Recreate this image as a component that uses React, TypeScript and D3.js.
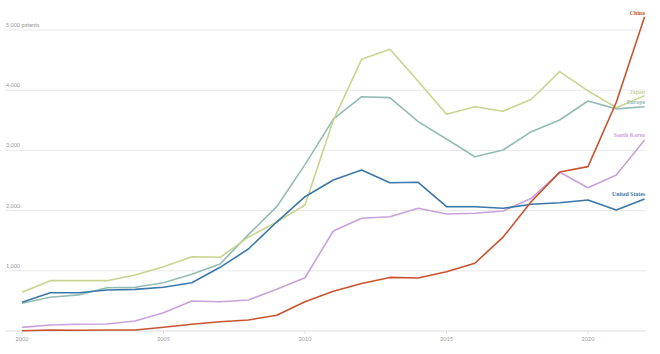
import React, { useEffect, useRef } from 'react'
import * as d3 from 'd3'

const years = d3.range(2000, 2023)
const china = [5, 17, 12, 17, 17, 61, 111, 154, 183, 261, 487, 660, 790, 890, 880, 985, 1125, 1560, 2150, 2640, 2730, 3800, 5220]
const japan = [643, 836, 836, 836, 930, 1068, 1234, 1224, 1560, 1810, 2093, 3500, 4513, 4680, 4150, 3600, 3726, 3650, 3850, 4308, 3990, 3710, 3910]
const europe = [460, 560, 600, 719, 726, 802, 941, 1113, 1600, 2065, 2764, 3520, 3892, 3876, 3477, 3190, 2895, 3007, 3311, 3505, 3820, 3690, 3726]
const southKorea = [61, 100, 111, 116, 166, 304, 498, 487, 515, 693, 885, 1661, 1872, 1899, 2038, 1944, 1955, 1993, 2204, 2636, 2380, 2591, 3173]
const unitedStates = [477, 636, 636, 681, 692, 726, 802, 1058, 1362, 1810, 2231, 2508, 2674, 2463, 2470, 2065, 2065, 2038, 2105, 2131, 2176, 2010, 2193]

const yTicks = [1000, 2000, 3000, 4000, 5000]
const xTicks = [2000, 2005, 2010, 2015, 2020]

// label offsets (px) from each line's last point
const series = [
  { name: 'Europe', values: europe, color: '#93bcb4', dy: -2.5 },
  { name: 'Japan', values: japan, color: '#c9d48f', dy: -2 },
  { name: 'South Korea', values: southKorea, color: '#c7a3dd', dy: -2.5 },
  { name: 'United States', values: unitedStates, color: '#3b78a9', dy: -3 },
  { name: 'China', values: china, color: '#c9532f', dy: 0 },
]

const W = 660
const H = 354

export default function App() {
  const ref = useRef<SVGSVGElement>(null)

  useEffect(() => {
    const svg = d3.select(ref.current)
    svg.selectAll('*').remove()

    const x = d3.scaleLinear().domain([2000, 2022]).range([22, 644.6])
    const y = d3.scaleLinear().domain([0, 5000]).range([331, 30])

    // grid
    svg.append('g')
      .selectAll('line')
      .data(yTicks)
      .enter()
      .append('line')
      .attr('x1', 5)
      .attr('x2', 646)
      .attr('y1', d => y(d))
      .attr('y2', d => y(d))
      .attr('stroke', '#e8e8e8')
      .attr('stroke-width', 1)

    svg.append('g')
      .selectAll('text')
      .data(yTicks)
      .enter()
      .append('text')
      .attr('x', 6)
      .attr('y', d => y(d) - 3)
      .attr('font-family', 'Lato, sans-serif')
      .attr('font-size', 5.5)
      .attr('fill', '#999')
      .text(d => d3.format(',')(d) + (d === 5000 ? ' patents' : ''))

    // baseline + x axis
    svg.append('line')
      .attr('x1', 5).attr('x2', 646)
      .attr('y1', y(0)).attr('y2', y(0))
      .attr('stroke', '#dcdcdc')

    const xg = svg.append('g')
    xg.selectAll('line')
      .data(xTicks)
      .enter()
      .append('line')
      .attr('x1', d => x(d)).attr('x2', d => x(d))
      .attr('y1', y(0)).attr('y2', y(0) + 3)
      .attr('stroke', '#dcdcdc')
    xg.selectAll('text')
      .data(xTicks)
      .enter()
      .append('text')
      .attr('x', d => x(d))
      .attr('y', y(0) + 10)
      .attr('text-anchor', 'middle')
      .attr('font-family', 'Lato, sans-serif')
      .attr('font-size', 5.5)
      .attr('fill', '#999')
      .text(d => d)

    const line = d3.line<number>()
      .x((d, i) => x(years[i]))
      .y(d => y(d))

    svg.append('g')
      .selectAll('path')
      .data(series)
      .enter()
      .append('path')
      .attr('d', d => line(d.values))
      .attr('fill', 'none')
      .attr('stroke', d => d.color)
      .attr('stroke-width', 1.6)
      .attr('stroke-linejoin', 'round')

    svg.append('g')
      .selectAll('text')
      .data(series)
      .enter()
      .append('text')
      .attr('x', 645)
      .attr('y', d => d.name === 'China' ? 14.5 : y(d.values[d.values.length - 1]) + d.dy)
      .attr('text-anchor', 'end')
      .attr('font-family', 'Liberation Serif, serif')
      .attr('font-weight', 'bold')
      .attr('font-size', 5.8)
      .attr('fill', d => d.color)
      .text(d => d.name)
  }, [])

  return (
    <svg
      ref={ref}
      width={W}
      height={H}
      style={{ position: 'absolute', left: 0, top: 0, background: '#fff' }}
    />
  )
}
